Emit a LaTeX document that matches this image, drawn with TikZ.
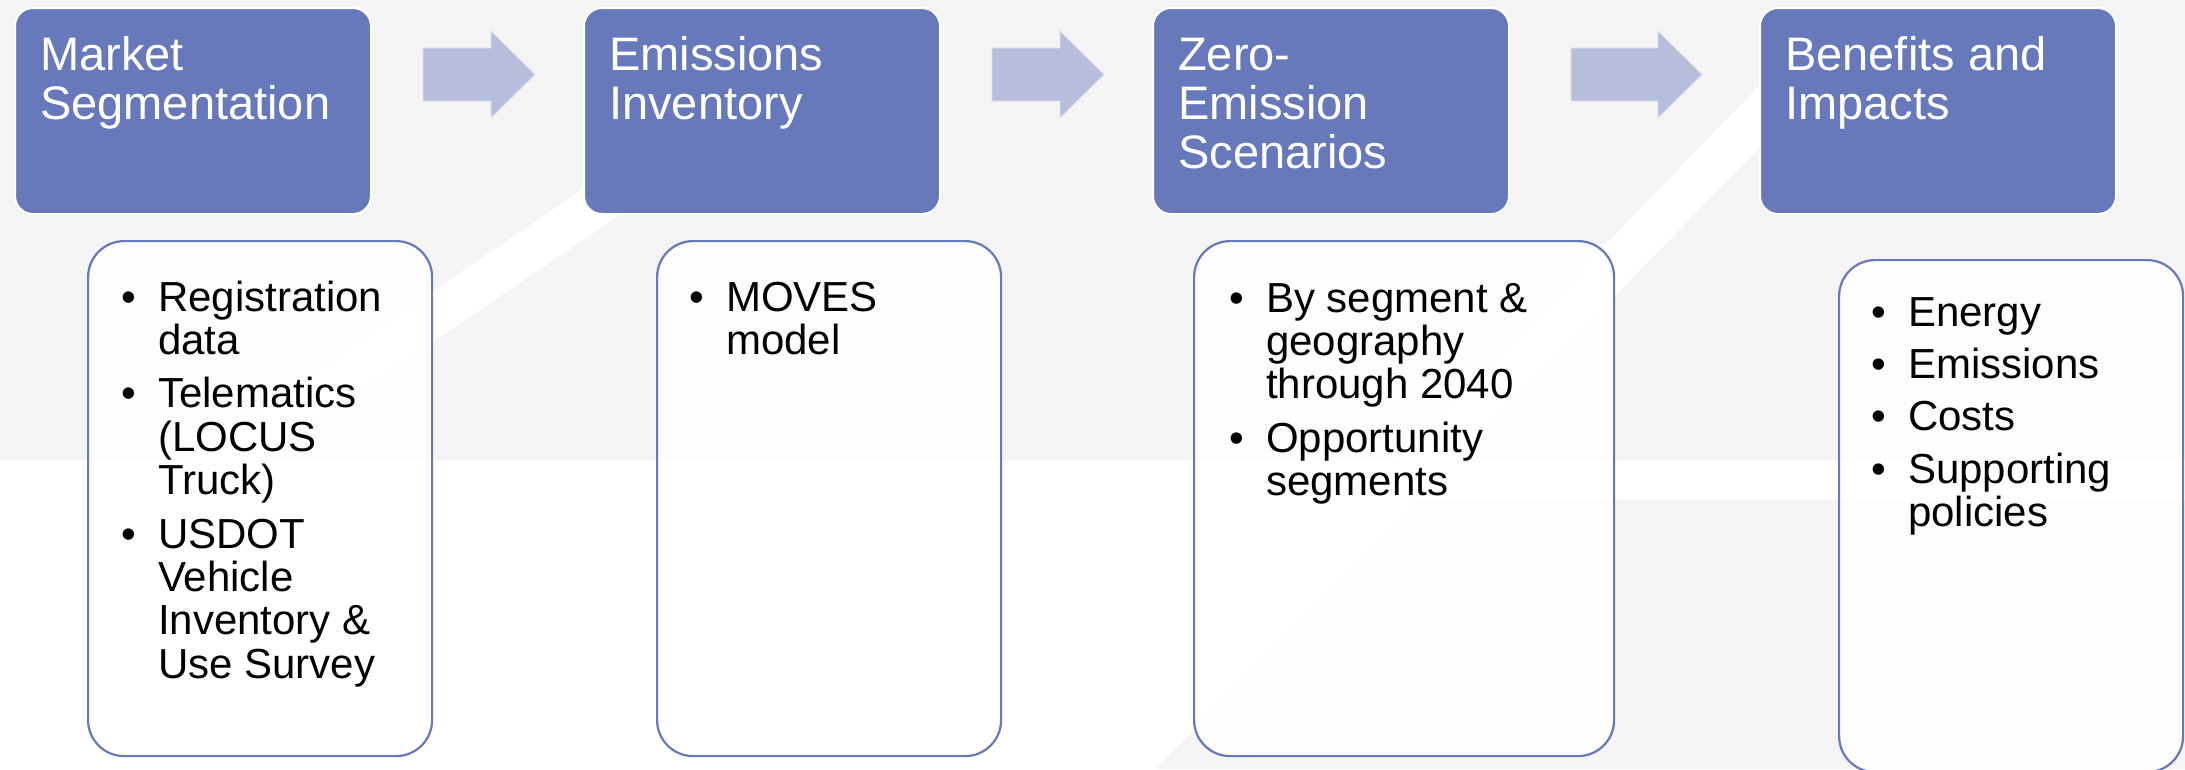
\documentclass[tikz,border=0pt]{standalone}
\usepackage{fontspec}
\setmainfont{Liberation Sans}
\definecolor{stepblue}{HTML}{6779BA}
\definecolor{arrowblue}{HTML}{B7BDDB}
\definecolor{bggray}{HTML}{F4F4F4}

% bullet cell of fixed width for the detail lists
\newcommand{\bul}{\makebox[37pt][l]{\textbullet}}
% block arrow: #1 = tail point (vertical centre), #2 = shaft length
\newcommand{\blockarrow}[2]{%
  \fill[flowarrow] (#1) ++(0,-26.5) -- ++(#2,0) -- ++(0,-17) -- ++(44,43.5)
    -- ++(-44,43.5) -- ++(0,-17) -- ++(-#2,0) -- cycle;}

\tikzset{
  stage/.style={draw=white, line width=2pt, fill=stepblue, rounded corners=18pt,
    inner sep=0pt, anchor=north west, minimum width=356pt, minimum height=206pt},
  detail/.style={draw=stepblue, line width=2.2pt, fill=white, fill opacity=0.9,
    rounded corners=36pt, inner sep=0pt, anchor=north west},
  stagetext/.style={text=white, anchor=base west, inner sep=0pt,
    font=\fontsize{47}{49}\selectfont},
  listtext/.style={text=black, anchor=base west, inner sep=0pt,
    font=\fontsize{42}{43.3}\selectfont},
  flowarrow/.style={fill=arrowblue, draw=white!55!arrowblue, line width=0.8pt},
}

\begin{document}
\begin{tikzpicture}[x=1pt,y=-1pt]
\useasboundingbox (0,0) rectangle (2185,769);

% backdrop: grey field with white bands
\fill[bggray] (0,0) rectangle (2185,769);
\fill[white] (0,460) -- (1456,460) -- (1156,769) -- (0,769) -- cycle;
\fill[white] (1456,460) -- (2185,460) -- (2185,500) -- (1417,500) -- cycle;
\fill[white] (1396,460) -- (1794,50) -- (1854,50) -- (1456,460) -- cycle;
\fill[white] (183,461) -- (714,100) -- (789,100) -- (258,461) -- cycle;

% process steps
\node[stage] (s1) at (14,7) {};
\node[stage] (s2) at (583,7) {};
\node[stage] (s3) at (1152,7) {};
\node[stage] (s4) at (1759,7) {};

\node[stagetext] (s1t) at (40,70) {\begin{tabular}[t]{@{}l@{}}Market\\Segmentation\end{tabular}};
\node[stagetext] (s2t) at (609,70) {\begin{tabular}[t]{@{}l@{}}Emissions\\Inventory\end{tabular}};
\node[stagetext] (s3t) at (1178,70) {\begin{tabular}[t]{@{}l@{}}Zero-\\Emission\\Scenarios\end{tabular}};
\node[stagetext] (s4t) at (1785,70) {\begin{tabular}[t]{@{}l@{}}Benefits and\\Impacts\end{tabular}};

% arrows between steps
\coordinate (a1) at (423,74.5);
\coordinate (a2) at (992,74.5);
\coordinate (a3) at (1571,74.5);
\blockarrow{a1}{68}
\blockarrow{a2}{68}
\blockarrow{a3}{87}

% detail panels
\node[detail, minimum width=344pt, minimum height=515pt] (d1) at (87,240) {};
\node[detail, minimum width=344pt, minimum height=515pt] (d2) at (656,240) {};
\node[detail, minimum width=420pt, minimum height=515pt] (d3) at (1193,240) {};
\node[detail, minimum width=344pt, minimum height=512pt] (d4) at (1838,259) {};

\node[listtext] (l1) at (121,311) {\begin{tabular}[t]{@{}l@{}l@{}}
\bul & Registration\\
     & data\\[10pt]
\bul & Telematics\\
     & (LOCUS\\
     & Truck)\\[10pt]
\bul & USDOT\\
     & Vehicle\\
     & Inventory \&\\
     & Use Survey
\end{tabular}};

\node[listtext] (l2) at (689,311) {\begin{tabular}[t]{@{}l@{}l@{}}
\bul & MOVES\\
     & model
\end{tabular}};

\node[listtext] (l3) at (1229,312) {\begin{tabular}[t]{@{}l@{}l@{}}
\bul & By segment \&\\
     & geography\\
     & through 2040\\[10pt]
\bul & Opportunity\\
     & segments
\end{tabular}};

\node[listtext] (l4) at (1871,326) {\begin{tabular}[t]{@{}l@{}l@{}}
\bul & Energy\\[9pt]
\bul & Emissions\\[9pt]
\bul & Costs\\[9pt]
\bul & Supporting\\
     & policies
\end{tabular}};
\end{tikzpicture}
\end{document}
